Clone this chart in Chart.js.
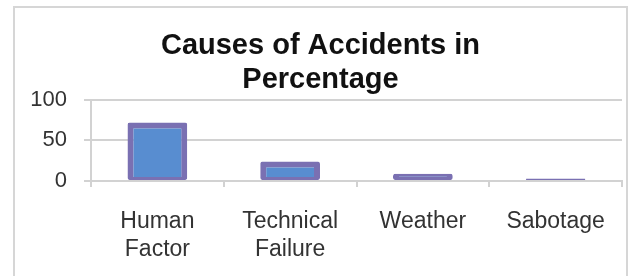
<!DOCTYPE html>
<html>
<head>
<meta charset="utf-8">
<script src="https://cdn.jsdelivr.net/npm/chart.js@4/dist/chart.umd.min.js"></script>
<style>
  html, body { margin: 0; padding: 0; background: #ffffff; }
  #wrap { position: relative; width: 629px; height: 276px; overflow: hidden; background: #fff; }
  #frame { position: absolute; left: 13px; top: 6px; width: 611px; height: 320px; border: 2px solid #d6d6d6; box-sizing: content-box; }
  canvas { position: absolute; left: 0; top: 0; }
</style>
</head>
<body>
<div id="wrap">
  <div id="frame"></div>
  <canvas id="c" width="629" height="276"></canvas>
</div>
<script>
const categories = [["Human", "Factor"], ["Technical", "Failure"], ["Weather"], ["Sabotage"]];
const percentages = [72, 24, 9, 3];
const yTicks = [0, 50, 100];
const titleLines = ["Causes of Accidents in", "Percentage"];

const FONT = "'Liberation Sans', Arial, sans-serif";
const GRID = "#d2d2d2";

new Chart(document.getElementById("c"), {
  type: "bar",
  data: {
    labels: categories,
    datasets: [{
      label: "Percentage",
      data: percentages,
      backgroundColor: "#588dd0",
      borderColor: "#7a70b2",
      borderWidth: { top: 6, left: 6, right: 6, bottom: 3 },
      borderSkipped: false,
      borderRadius: 2,
      barPercentage: 0.45,
      categoryPercentage: 1.0
    }]
  },
  options: {
    responsive: false,
    animation: false,
    devicePixelRatio: 1,
    layout: { padding: { left: 19, right: 7, top: 0, bottom: 0 } },
    plugins: {
      legend: { display: false },
      tooltip: { enabled: false },
      title: {
        display: true,
        text: titleLines,
        color: "#111111",
        font: { family: FONT, size: 29, weight: "bold", lineHeight: 1.17 },
        padding: { top: 29, bottom: 3 }
      }
    },
    scales: {
      x: {
        grid: { display: true, drawOnChartArea: false, drawTicks: true, tickLength: 6, color: GRID, lineWidth: 2, offset: true },
        border: { display: true, color: GRID, width: 2 },
        ticks: {
          color: "#333333",
          padding: 21,
          maxRotation: 0,
          autoSkip: false,
          font: { family: FONT, size: 23, lineHeight: 1.22 }
        },
        afterFit: (s) => { s.height = 95; }
      },
      y: {
        min: 0,
        max: 100,
        afterBuildTicks: (s) => { s.ticks = yTicks.map(v => ({ value: v })); },
        grid: { color: GRID, lineWidth: 2, drawTicks: true, tickLength: 7 },
        border: { display: true, color: GRID, width: 2 },
        ticks: {
          color: "#333333",
          padding: 17,
          font: { family: FONT, size: 22 }
        },
        afterFit: (s) => { s.width = 72; }
      }
    }
  }
});
</script>
</body>
</html>
